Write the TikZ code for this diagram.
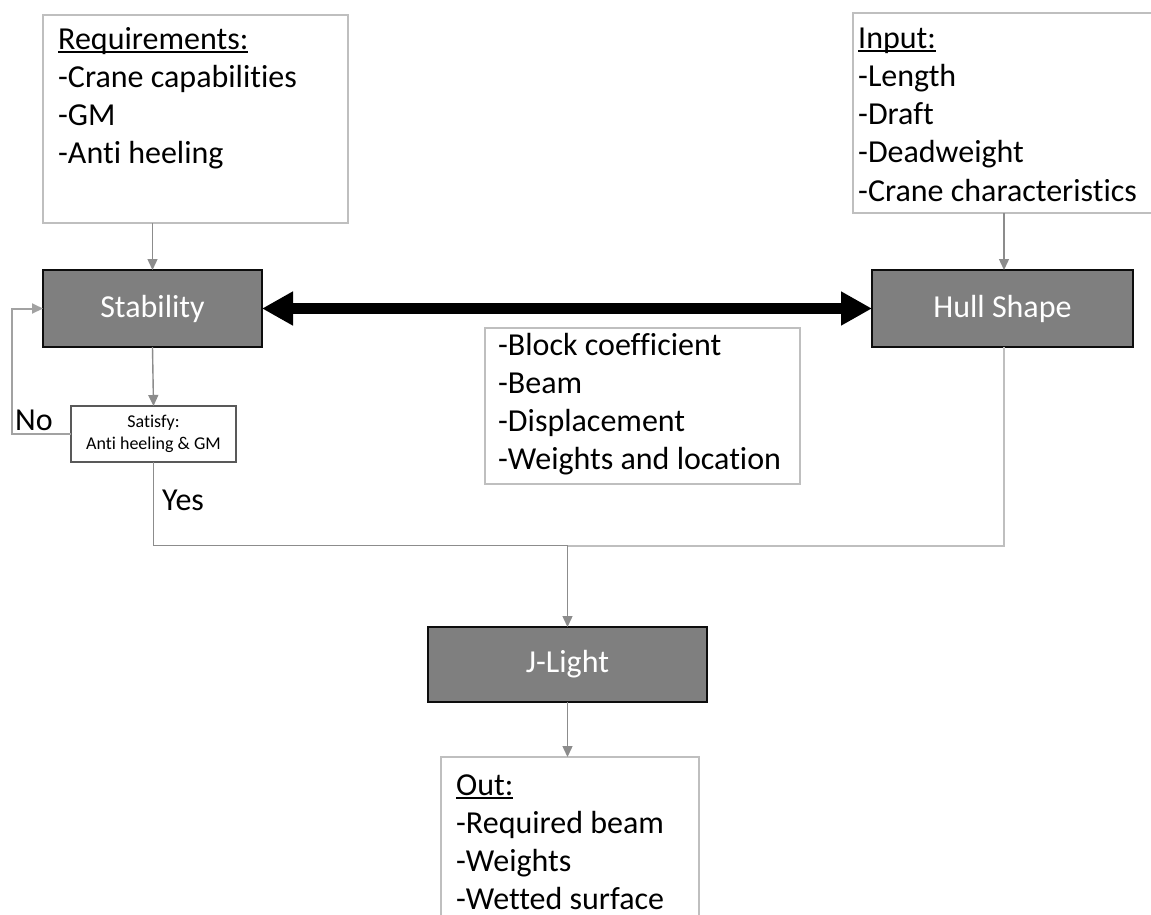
\documentclass[tikz,border=0pt]{standalone}
\usepackage{fontspec}
\setmainfont[Ligatures=NoCommon]{Carlito}
\usetikzlibrary{arrows.meta}
\definecolor{boxgray}{HTML}{BFBFBF}
\definecolor{darkfill}{HTML}{7F7F7F}
\definecolor{conngray}{HTML}{8C8C8C}
\definecolor{satborder}{HTML}{595959}
\newcommand{\ulx}[1]{\setbox0\hbox{#1}\rlap{\rule[-3.5pt]{\wd0}{1.6pt}}\box0}
\newcommand{\firstln}{\rule{0pt}{25pt}}
\begin{document}
\begin{tikzpicture}[x=1pt,y=-1pt,
  lbox/.style={draw=boxgray, line width=2pt, fill=white, inner sep=0pt, outer sep=0pt},
  dbox/.style={draw=black!95, line width=2pt, fill=darkfill, text=white, inner sep=0pt, outer sep=0pt,
    font=\fontsize{32}{38}\selectfont},
  sbox/.style={draw=satborder, line width=1.4pt, fill=white, inner sep=0pt, outer sep=0pt,
    align=center, font=\fontsize{18}{22}\selectfont},
  listtxt/.style={anchor=north west, inner sep=0pt, align=left, font=\fontsize{32}{38.2}\selectfont},
  lbl/.style={anchor=base west, inner sep=0pt, font=\fontsize{32}{38}\selectfont},
  arr/.style={draw=conngray, line width=1.4pt, -{Triangle[length=11pt 0 0,width=10pt 0 0]}},
  plainline/.style={draw=conngray, line width=1.4pt},
  lightline/.style={draw=boxgray, line width=2pt},
  bigarr/.style={draw=black, line width=11pt,
    {Triangle[length=31pt 0 0,width=32pt 0 0]}-{Triangle[length=31pt 0 0,width=32pt 0 0]}}
]
\clip (0,0) rectangle (1151,914);
\fill[white] (0,0) rectangle (1151,914);

% light boxes
\node[lbox, minimum width=305pt, minimum height=208pt] (reqbox) at (195.5,119) {};
\node[listtxt] (reqtext) at (58,24) {\firstln\ulx{Requirements:}\\-Crane capabilities\\-GM\\-Anti heeling};

\node[lbox, minimum width=317pt, minimum height=200pt] (inbox) at (1011.5,113) {};
\node[listtxt] (intext) at (858,23) {\firstln\ulx{Input:}\\-Length\\-Draft\\-Deadweight\\-Crane characteristics};

\node[lbox, minimum width=315pt, minimum height=156pt] (midbox) at (642.5,406) {};
\node[listtxt] (midtext) at (498,330) {\firstln-Block coefficient\\-Beam\\-Displacement\\-Weights and location};

\node[lbox, minimum width=258pt, minimum height=203pt] (outbox) at (570,858.5) {};
\node[listtxt] (outtext) at (456,770) {\firstln\ulx{Out:}\\-Required beam\\-Weights\\-Wetted surface};

% dark boxes
\node[dbox, minimum width=219pt, minimum height=77pt] (stab) at (152.5,308.5) {Stability};
\node[dbox, minimum width=261pt, minimum height=77pt] (hull) at (1002.5,308.5) {Hull Shape};
\node[dbox, minimum width=279pt, minimum height=75pt] (jl) at (567.5,664.5) {J-Light};

% decision box
\node[sbox, minimum width=165pt, minimum height=56pt] (sat) at (153.5,434) {Satisfy:\\Anti heeling \& GM};

% labels
\node[lbl] (nolbl) at (15,430) {No};
\node[lbl] (yeslbl) at (162,510) {Yes};

% coordinates
\coordinate (lp) at (12,434);
\coordinate (mg) at (567.5,545.5);

% connectors
\draw[arr] (reqbox.south -| stab.north) -- (stab.north);
\draw[arr] (inbox.south -| 1004,0) -- (1004,270);
\draw[arr] (stab.south) -- (sat.north);
\draw[lightline, draw=boxgray!85!black, -{Triangle[length=11pt 0 0,width=10pt 0 0]}] (sat.west) -- (lp) |- (stab.west);
\draw[plainline] (sat.south) |- (mg);
\draw[lightline] (hull.south -| 1004,0) |- (mg);
\draw[arr] (mg) -- (jl.north);
\draw[arr] (jl.south) -- (outbox.north -| jl.south);
\draw[bigarr] (stab.east) -- (hull.west);
\end{tikzpicture}
\end{document}
